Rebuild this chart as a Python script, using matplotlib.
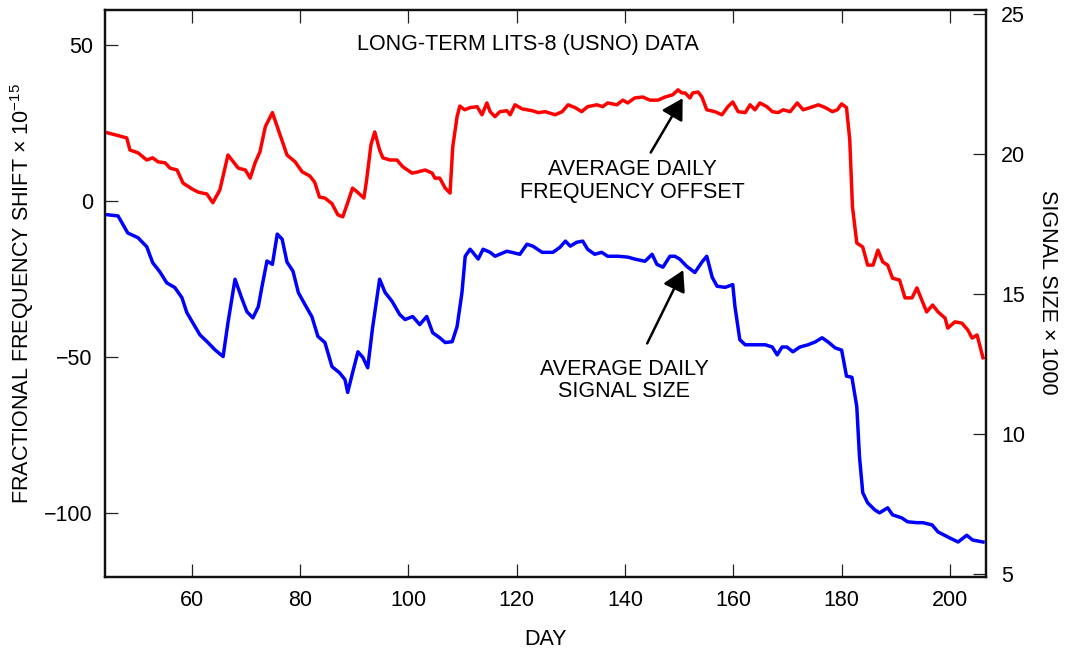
import matplotlib
matplotlib.use("Agg")
import matplotlib.pyplot as plt

plt.rcParams['font.family'] = ['Liberation Sans', 'DejaVu Sans']
plt.rcParams['mathtext.fontset'] = 'custom'
plt.rcParams['mathtext.rm'] = 'Liberation Sans'
plt.rcParams['mathtext.it'] = 'Liberation Sans:italic'
plt.rcParams['mathtext.bf'] = 'Liberation Sans:bold'

# Average daily fractional frequency offset (x 1e-15) vs day
freq_days = [44.5, 47.3, 48.0, 48.6, 50.1, 51.7, 52.8, 53.8, 55.1, 56.0, 57.3, 58.4,
             60.1, 61.2, 62.8, 63.9, 65.2, 66.7, 68.6, 69.9, 70.8, 71.7, 72.6, 73.6,
             74.9, 76.0, 77.6, 79.1, 80.4, 81.8, 82.7, 83.6, 84.6, 85.9, 87.0, 87.9,
             88.8, 89.7, 90.6, 91.8, 92.3, 93.1, 93.8, 94.7, 95.3, 96.6, 97.9, 99.0,
             100.7, 101.8, 103.1, 104.4, 104.9, 105.8, 106.8, 107.7, 108.2, 109.0,
             109.5, 110.4, 111.4, 112.7, 113.6, 114.5, 115.1, 116.0, 116.9, 118.2,
             118.8, 119.7, 121.0, 122.9, 124.0, 125.3, 127.1, 128.4, 129.5, 130.8,
             132.0, 133.1, 134.8, 135.9, 136.8, 138.5, 139.6, 140.5, 141.8, 143.3,
             144.6, 146.1, 147.4, 148.8, 149.8, 150.5, 151.1, 152.0, 152.5, 153.5,
             154.2, 155.1, 156.6, 157.9, 159.0, 159.9, 160.9, 162.2, 163.1, 164.0,
             164.9, 166.2, 167.2, 168.3, 169.2, 170.5, 171.8, 172.9, 174.2, 175.7,
             177.0, 178.3, 179.2, 180.0, 180.9, 181.5, 182.0, 182.8, 183.9, 184.8,
             185.8, 186.7, 187.6, 188.5, 189.4, 190.7, 191.7, 193.0, 193.9, 194.8,
             195.7, 196.8, 197.8, 199.1, 199.6, 200.9, 202.2, 203.3, 204.1, 205.0,
             206.1]
freq_shift = [21.8, 20.5, 20.2, 16.3, 15.4, 13.1, 13.8, 12.5, 12.2, 10.5, 9.9, 5.7,
              3.8, 2.8, 2.2, -0.6, 3.5, 14.7, 10.5, 9.9, 7.3, 12.2, 15.7, 23.8,
              28.3, 22.8, 14.7, 12.5, 9.3, 8.0, 6.0, 1.2, 0.9, -0.9, -4.5, -5.1,
              -0.6, 4.1, 2.8, 0.9, 6.7, 18.0, 22.1, 16.3, 13.8, 13.1, 13.1, 10.9,
              8.9, 9.3, 9.9, 8.9, 7.3, 7.3, 4.1, 2.5, 17.3, 27.0,
              30.4, 29.2, 29.9, 30.2, 27.6, 31.4, 28.6, 27.0, 28.6, 28.9,
              27.6, 30.8, 29.5, 28.9, 28.3, 28.6, 27.6, 28.6, 30.8, 29.9,
              28.6, 30.2, 30.8, 30.2, 31.4, 30.8, 32.3, 31.4, 33.0, 33.3,
              32.3, 32.3, 33.3, 34.0, 35.6, 34.6, 34.6, 33.0, 34.6, 34.9,
              33.3, 29.2, 28.6, 27.6, 30.2, 31.7, 28.6, 28.3, 30.8, 29.2,
              31.4, 30.2, 28.6, 28.3, 29.2, 28.6, 31.4, 29.2, 29.9, 30.8,
              29.9, 28.6, 29.2, 31.1, 29.9, 19.6, -1.9, -13.5, -14.8, -20.6,
              -20.6, -15.8, -19.6, -20.6, -24.8, -25.4, -31.1, -31.1, -27.9, -31.8,
              -35.6, -33.4, -35.6, -37.6, -40.8, -38.8, -39.2, -41.4, -44.0, -43.0,
              -50.3]

# Average daily signal size (x 1000) vs day
signal_days = [44.5, 46.4, 48.2, 50.1, 51.7, 52.8, 54.1, 55.4, 56.9, 58.2, 59.1, 60.2,
               61.5, 63.0, 64.3, 65.8, 66.7, 68.0, 69.3, 70.2, 71.3, 72.3, 73.0, 73.9,
               74.9, 75.8, 76.7, 77.6, 78.7, 79.7, 80.9, 82.2, 83.3, 84.6, 85.9, 87.3,
               88.3, 88.8, 89.7, 90.7, 91.6, 92.5, 93.4, 94.7, 95.7, 97.0, 98.4, 99.4,
               100.8, 102.1, 103.4, 104.5, 105.8, 106.8, 108.1, 109.0, 109.9, 110.5,
               111.4, 111.9, 112.9, 113.8, 115.1, 116.0, 118.2, 120.6, 121.9, 123.0,
               124.7, 126.7, 128.0, 129.0, 129.9, 131.1, 132.2, 133.1, 134.4, 135.7,
               136.8, 138.7, 140.5, 141.8, 143.7, 145.0, 145.9, 147.0, 148.3, 149.2,
               150.1, 151.4, 152.9, 154.2, 155.1, 156.1, 157.0, 158.5, 159.9, 160.3,
               161.2, 162.2, 165.9, 167.2, 168.1, 169.0, 169.9, 171.0, 172.3, 173.8,
               175.1, 176.4, 177.5, 178.8, 180.0, 180.9, 181.9, 182.8, 183.3, 183.9,
               184.8, 186.1, 187.0, 188.5, 189.4, 191.1, 192.2, 193.9, 195.0, 196.7,
               197.8, 199.6, 201.5, 203.1, 204.2, 206.1]
signal_size = [17.83, 17.79, 17.18, 17.01, 16.69, 16.12, 15.80, 15.40, 15.23, 14.87, 14.34, 13.98,
               13.55, 13.27, 13.01, 12.77, 13.98, 15.53, 14.82, 14.37, 14.15, 14.55, 15.29, 16.18,
               16.06, 17.14, 16.96, 16.14, 15.82, 15.05, 14.63, 14.19, 13.49, 13.27, 12.41, 12.19,
               11.95, 11.49, 12.19, 12.94, 12.74, 12.37, 13.80, 15.53, 15.06, 14.74, 14.27, 14.09,
               14.20, 13.91, 14.20, 13.62, 13.44, 13.27, 13.30, 13.84, 15.05, 16.35,
               16.60, 16.49, 16.25, 16.60, 16.49, 16.35, 16.53, 16.42, 16.78, 16.71,
               16.49, 16.49, 16.67, 16.89, 16.71, 16.85, 16.89, 16.60, 16.42, 16.49,
               16.35, 16.35, 16.32, 16.25, 16.17, 16.42, 16.06, 15.96, 16.35, 16.35,
               16.25, 15.99, 15.77, 16.14, 16.35, 15.60, 15.28, 15.24, 15.34, 14.56,
               13.37, 13.19, 13.19, 13.11, 12.83, 13.11, 13.11, 12.94, 13.11, 13.19,
               13.29, 13.44, 13.29, 13.08, 13.00, 12.07, 12.03, 10.98, 9.19, 7.91,
               7.55, 7.30, 7.19, 7.37, 7.12, 7.01, 6.87, 6.84, 6.84, 6.76,
               6.51, 6.33, 6.15, 6.39, 6.22, 6.15]

x_ticks = [60, 80, 100, 120, 140, 160, 180, 200]
left_ticks = [-100, -50, 0, 50]
right_ticks = [5, 10, 15, 20, 25]

FS = 15.5

fig = plt.figure(figsize=(10.65, 6.53), dpi=100)
ax = fig.add_axes([105.3 / 1065, 1 - 577.3 / 653, 880.4 / 1065, 567.3 / 653])
ax2 = ax.twinx()

ax.plot(freq_days, freq_shift, color='#ff0000', lw=2.5, solid_joinstyle='round')
ax2.plot(signal_days, signal_size, color='#0000ff', lw=2.5, solid_joinstyle='round')

ax.set_xlim(44.05, 206.6)
ax.set_ylim(-120.7, 61.2)
ax2.set_ylim(4.89, 25.14)

ax.set_xticks(x_ticks)
ax.set_yticks(left_ticks)
ax2.set_yticks(right_ticks)

tick_kw = dict(direction='in', length=9.5, width=0.9, color='#222222',
               labelsize=FS, labelcolor='black')
ax.tick_params(axis='x', top=True, bottom=True, pad=9, **tick_kw)
ax.tick_params(axis='y', left=True, right=False, pad=9, **tick_kw)
ax2.tick_params(axis='y', right=True, left=False, pad=11, **tick_kw)

for a in (ax, ax2):
    for s in a.spines.values():
        s.set_linewidth(1.6)
        s.set_color('#111111')

ax.set_xlabel('DAY', fontsize=FS)
ax.set_ylabel('FRACTIONAL FREQUENCY SHIFT \u00d7 10$^{\u221215}$', fontsize=FS)
ax2.set_ylabel('SIGNAL SIZE \u00d7 1000', fontsize=FS, rotation=270)
ax.xaxis.set_label_coords(0.5, -0.092)
ax.yaxis.set_label_coords(-0.079, 0.5)
ax2.yaxis.set_label_coords(1.082, 0.503)

ax.text(122.0, 50.0, 'LONG-TERM LITS-8 (USNO) DATA', ha='center', va='center', fontsize=FS)

arrow = dict(arrowstyle='-|>,head_length=1.25,head_width=0.72', color='black', lw=1.8,
             shrinkA=0, shrinkB=0, mutation_scale=10)
ax.annotate('', xy=(150.65, 32.9), xytext=(144.75, 15.5), arrowprops=arrow)
ax.annotate('', xy=(150.76, -22.2), xytext=(144.1, -45.7), arrowprops=arrow)
ax.text(141.4, 6.3, 'AVERAGE DAILY\nFREQUENCY OFFSET', ha='center', va='center',
        fontsize=FS, linespacing=1.1)
ax.text(139.8, -57.6, 'AVERAGE DAILY\nSIGNAL SIZE', ha='center', va='center',
        fontsize=FS, linespacing=1.1)

fig.savefig('out.png', dpi=100)
